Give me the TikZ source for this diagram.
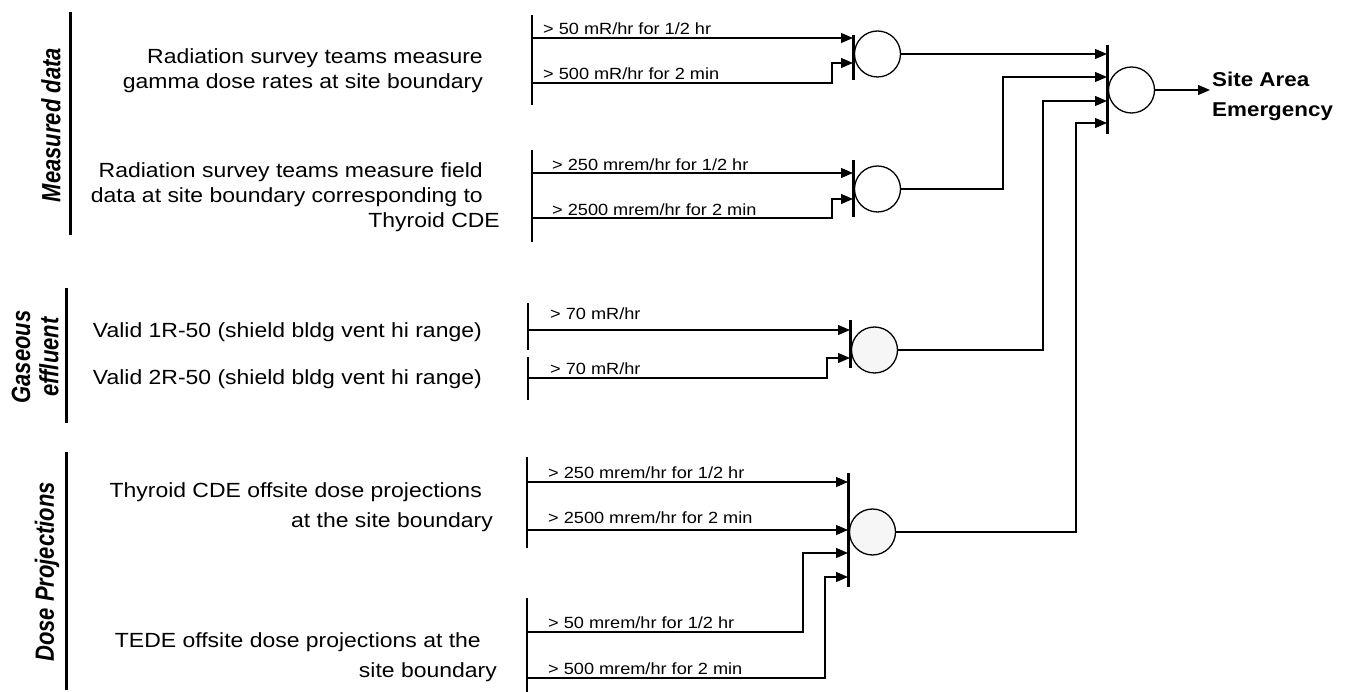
\documentclass[tikz,border=0pt]{standalone}
\usepackage{fontspec}
\newfontfamily\wf[FakeStretch=1.12]{Liberation Sans}
\newfontfamily\rf{Liberation Sans}
\usetikzlibrary{arrows.meta}
\begin{document}
\begin{tikzpicture}[x=1pt,y=-1pt,
  wire/.style={line width=1.2pt},
  arr/.style={wire,-{Triangle[length=12pt,width=10pt]}},
  gbar/.style={line width=3pt},
  ibar/.style={line width=2pt},
  grpbar/.style={line width=3pt},
  gate/.style={circle,draw,line width=1.3pt,minimum size=46pt,inner sep=0pt},
  big/.style={font=\wf\fontsize{20.5}{25}\selectfont,inner sep=0pt,anchor=base east},
  small/.style={font=\wf\fontsize{16.2}{18}\selectfont,inner sep=0pt,anchor=base west},
  grp/.style={font=\rf\bfseries\itshape\fontsize{22}{26}\selectfont,rotate=90,inner sep=0pt},
  sae/.style={font=\wf\bfseries\fontsize{20}{25}\selectfont,inner sep=0pt,anchor=base west}
]
\useasboundingbox (0,0) rectangle (1353,692);

% group labels
\draw[grpbar] (70,12) -- (70,235);
\node[grp] (gl1) at (51,125) {\scalebox{1}[1.2]{Measured data}};
\draw[grpbar] (66,288) -- (66,423);
\node[grp] (gl2a) at (21,357) {\scalebox{1}[1.2]{Gaseous}};
\node[grp] (gl2b) at (49,357) {\scalebox{1}[1.2]{effluent}};
\draw[grpbar] (66,452) -- (66,690);
\node[grp] (gl3) at (47,572) {\scalebox{1}[1.2]{Dose Projections}};

% description texts
\node[big] (t1a) at (483,64) {Radiation survey teams measure};
\node[big] (t1b) at (483,89) {gamma dose rates at site boundary};
\node[big] (t2a) at (483,178) {Radiation survey teams measure field};
\node[big] (t2b) at (483,203) {data at site boundary corresponding to};
\node[big] (t2c) at (500,228) {Thyroid CDE};
\node[big] (t3a) at (482,338) {Valid 1R-50 (shield bldg vent hi range)};
\node[big] (t3b) at (482,385) {Valid 2R-50 (shield bldg vent hi range)};
\node[big] (t4a) at (482,497) {Thyroid CDE offsite dose projections};
\node[big] (t4b) at (493,528) {at the site boundary};
\node[big] (t5a) at (481,647) {TEDE offsite dose projections at the};
\node[big] (t5b) at (497,677) {site boundary};

% gates
\node[gate] (g1) at (877.5,54) {};
\node[gate] (g2) at (877.5,189) {};
\node[gate,fill=gray!7] (g3) at (874.5,350) {};
\node[gate,fill=gray!7] (g4) at (872.5,532) {};
\node[gate] (gm) at (1131.5,90) {};

% gate bars
\draw[gbar] (853,35) -- (853,80);
\draw[gbar] (853,160) -- (853,217);
\draw[gbar] (850,320) -- (850,368);
\draw[gbar] (848,473) -- (848,587);
\draw[gbar] (1107,45) -- (1107,134);

% input bars
\draw[ibar] (532,15) -- (532,105);
\draw[ibar] (532,150) -- (532,242);
\draw[ibar] (528,303) -- (528,350);
\draw[ibar] (528,357) -- (528,400);
\draw[ibar] (527,457) -- (527,548);
\draw[ibar] (527,598) -- (527,692);

% gate 1 inputs
\coordinate (a1) at (532,38);  \coordinate (b1) at (853,38);
\coordinate (a2) at (532,83);  \coordinate (b2) at (853,63);
\draw[arr] (a1) -- (b1);
\draw[arr] (a2) -| (832,63) -- (b2);
\node[small] (l1) at (543,35) {> 50 mR/hr for 1/2 hr};
\node[small] (l2) at (543,80) {> 500 mR/hr for 2 min};

% gate 2 inputs
\coordinate (a3) at (532,173); \coordinate (b3) at (853,173);
\coordinate (a4) at (532,218); \coordinate (b4) at (853,199);
\draw[arr] (a3) -- (b3);
\draw[arr] (a4) -| (832,199) -- (b4);
\node[small] (l3) at (552,171) {> 250 mrem/hr for 1/2 hr};
\node[small] (l4) at (552,216) {> 2500 mrem/hr for 2 min};

% gate 3 inputs
\coordinate (a5) at (528,330); \coordinate (b5) at (850,330);
\coordinate (a6) at (528,378); \coordinate (b6) at (850,358);
\draw[arr] (a5) -- (b5);
\draw[arr] (a6) -| (827,358) -- (b6);
\node[small] (l5) at (550,320) {> 70 mR/hr};
\node[small] (l6) at (550,375) {> 70 mR/hr};

% gate 4 inputs
\coordinate (a7) at (527,482); \coordinate (b7) at (848,482);
\coordinate (a8) at (527,530); \coordinate (b8) at (848,530);
\coordinate (a9) at (527,632); \coordinate (b9) at (848,553);
\coordinate (a10) at (527,678); \coordinate (b10) at (848,577);
\draw[arr] (a7) -- (b7);
\draw[arr] (a8) -- (b8);
\draw[arr] (a9) -| (803,553) -- (b9);
\draw[arr] (a10) -| (825,577) -- (b10);
\node[small] (l7) at (548,479) {> 250 mrem/hr for 1/2 hr};
\node[small] (l8) at (548,524) {> 2500 mrem/hr for 2 min};
\node[small] (l9) at (548,628) {> 50 mrem/hr for 1/2 hr};
\node[small] (l10) at (548,674) {> 500 mrem/hr for 2 min};

% gate outputs to main gate
\draw[arr] (g1.east) -- (1107,54);
\draw[arr] (g2.east) -- (1003,189) |- (1107,77);
\draw[arr] (g3.east) -- (1043,350) |- (1107,101);
\draw[arr] (g4.east) -- (1076,532) |- (1107,123);

% final output
\coordinate (out) at (1210,90);
\draw[arr] (gm.east) -- (out);
\node[sae] (s1) at (1212,87) {Site Area};
\node[sae] (s2) at (1212,117) {Emergency};
\end{tikzpicture}
\end{document}
